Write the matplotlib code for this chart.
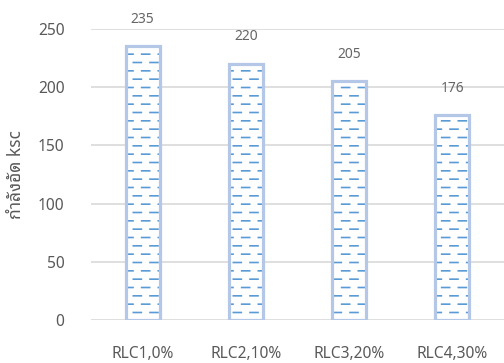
import matplotlib
matplotlib.use("Agg")
import numpy as np
import matplotlib.pyplot as plt
import matplotlib.hatch as mhatch
from matplotlib.path import Path

categories = ["RLC1,0%", "RLC2,10%", "RLC3,20%", "RLC4,30%"]
strength = [235, 220, 205, 176]
yticks = [0, 50, 100, 150, 200, 250]


class DashedRows(mhatch.HatchPatternBase):
    """Rows of short dashes, every other row shifted by half a period ('-' hatch)."""
    rows = 12
    cols = 6
    dash = 0.48  # fraction of a column period

    def __init__(self, hatch, density):
        self.on = hatch.count('-') > 0
        self.num_vertices = self.rows * self.cols * 2 * 2 if self.on else 0

    def set_vertices_and_codes(self, vertices, codes):
        segs = []
        per = 1.0 / self.cols
        for r in range(self.rows):
            y = (r + 0.5) / self.rows
            shift = 0.0 if r % 2 == 0 else per / 2
            for c in range(-1, self.cols + 1):
                x0 = c * per + shift
                x1 = x0 + self.dash * per
                x0, x1 = max(x0, 0.0), min(x1, 1.0)
                if x1 > x0:
                    segs.append((x0, x1, y))
        n = self.num_vertices // 2
        segs = (segs + [segs[-1]] * n)[:n]
        for i, (x0, x1, y) in enumerate(segs):
            vertices[2 * i] = (x0, y)
            vertices[2 * i + 1] = (x1, y)
            codes[2 * i] = Path.MOVETO
            codes[2 * i + 1] = Path.LINETO


mhatch._hatch_types[0] = DashedRows

plt.rcParams['font.family'] = ['Noto Sans', 'Noto Sans Thai Looped', 'DejaVu Sans']
plt.rcParams['hatch.linewidth'] = 1.2

fig = plt.figure(figsize=(5.04, 3.63), dpi=100)
ax = fig.add_axes([91 / 504, 1 - 320 / 363, 1 - 91 / 504, 291 / 363])

x = np.arange(len(categories))
# hatch layer, then the light outline on top
ax.bar(x, strength, width=0.33, color='white', edgecolor='#5B9BD5',
       linewidth=0, hatch='-', zorder=2)
ax.bar(x, strength, width=0.33, color='none', edgecolor='#B4C7E7',
       linewidth=2.3, zorder=3)

for xi, v in zip(x, strength):
    ax.annotate(str(v), (xi, v), xytext=(0, 14), textcoords='offset points',
                ha='center', va='bottom', fontsize=10, color='#666666')

ax.set_ylim(0, 250)
ax.set_xlim(-0.5, len(categories) - 0.5)
ax.set_yticks(yticks)
ax.set_xticks(x, categories)
ax.grid(axis='y', color='#D9D9D9', linewidth=1.2, zorder=0)
ax.set_axisbelow(True)
for s in ax.spines.values():
    s.set_visible(False)
ax.tick_params(length=0, labelsize=11.2, labelcolor='#595959')
ax.tick_params(axis='y', pad=19)
ax.tick_params(axis='x', pad=19)
ax.set_ylabel("กำลังอัด ksc", fontsize=12.5, color='#595959', labelpad=9)

fig.savefig("out.png", dpi=100)
